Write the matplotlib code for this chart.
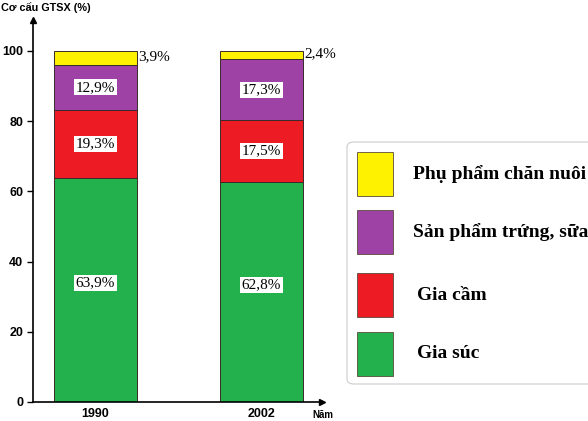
import matplotlib
matplotlib.use('Agg')
import matplotlib.pyplot as plt
from matplotlib.patches import FancyBboxPatch, Rectangle

years = ['1990', '2002']
gia_suc = [63.9, 62.8]
gia_cam = [19.3, 17.5]
trung_sua = [12.9, 17.3]
phu_pham = [3.9, 2.4]

series = [
    ('Gia súc', gia_suc, '#22b14c'),
    ('Gia cầm', gia_cam, '#ed1c24'),
    ('Sản phẩm trứng, sữa', trung_sua, '#9f42a6'),
    ('Phụ phẩm chăn nuôi', phu_pham, '#fff200'),
]

W, H = 588, 421
fig = plt.figure(figsize=(W / 100, H / 100), dpi=100)
# axes placed in pixel terms: x 33..322, y 20..402
ax = fig.add_axes([33 / W, 1 - 402 / H, (322 - 33) / W, (402 - 20) / H])

x = [0, 1]
bottom = [0.0, 0.0]
for name, vals, col in series:
    ax.bar(x, vals, width=0.5, bottom=bottom, color=col, edgecolor='#3a2a2a',
           linewidth=0.7, zorder=2)
    for i, v in enumerate(vals):
        yc = bottom[i] + v / 2
        txt = f'{v:.1f}%'.replace('.', ',')
        if name == 'Phụ phẩm chăn nuôi':
            ax.text(x[i] + 0.26, yc + 0.3, txt, family='Liberation Serif',
                    fontsize=11, ha='left', va='center')
        else:
            if name == 'Gia súc':
                yc += 2  # labels sit a little above the middle in the original
            ax.text(x[i], yc, txt, family='Liberation Serif',
                    fontsize=11, ha='center', va='center', zorder=3,
                    bbox=dict(facecolor='white', edgecolor='none', pad=1.2))
    bottom = [b + v for b, v in zip(bottom, vals)]

ax.set_xlim(-0.376, 1.364)
ax.set_ylim(0, 108.8)
ax.set_yticks([0, 20, 40, 60, 80, 100])
ax.set_yticklabels(['0', '20', '40', '60', '80', '100'], family='Liberation Sans',
                   fontweight='bold', fontsize=9)
ax.set_xticks(x)
ax.set_xticklabels(years, family='Liberation Sans', fontweight='bold', fontsize=9)
ax.tick_params(axis='x', length=0, pad=4)
ax.tick_params(axis='y', length=4, width=1, direction='out', pad=3)
for s in ['top', 'right']:
    ax.spines[s].set_visible(False)
for s in ['left', 'bottom']:
    ax.spines[s].set_linewidth(1.2)
ax.plot(1, 0, marker='>', color='black', markersize=5, transform=ax.transAxes, clip_on=False)
ax.plot(0, 1, marker='^', color='black', markersize=5, transform=ax.transAxes, clip_on=False)

fig.text(1 / W, 1 - 8 / H, 'Cơ cấu GTSX (%)', family='Liberation Sans', fontweight='bold',
         fontsize=7.8, ha='left', va='center')
fig.text(312 / W, 1 - 415 / H, 'Năm', family='Liberation Sans', fontweight='bold',
         fontsize=7, ha='left', va='center')

# legend box
box = FancyBboxPatch((347 / W, 1 - 384 / H), 260 / W, 242 / H,
                     boxstyle='round,pad=0,rounding_size=0.012', transform=fig.transFigure,
                     facecolor='white', edgecolor='#cccccc', linewidth=0.8, clip_on=False)
fig.add_artist(box)
leg_items = [
    ('Phụ phẩm chăn nuôi', '#fff200', 152, 413),
    ('Sản phẩm trứng, sữa', '#9f42a6', 210, 413),
    ('Gia cầm', '#ed1c24', 273, 417),
    ('Gia súc', '#22b14c', 332, 417),
]
for label, col, ytop, tx in leg_items:
    fig.add_artist(Rectangle((357 / W, 1 - (ytop + 44) / H), 36 / W, 44 / H,
                             transform=fig.transFigure, facecolor=col,
                             edgecolor='#5a4a3a', linewidth=0.6))
    fig.text(tx / W, 1 - (ytop + 22) / H, label, family='Liberation Serif',
             fontweight='bold', fontsize=14, ha='left', va='center')

fig.savefig('out.png', dpi=100)
